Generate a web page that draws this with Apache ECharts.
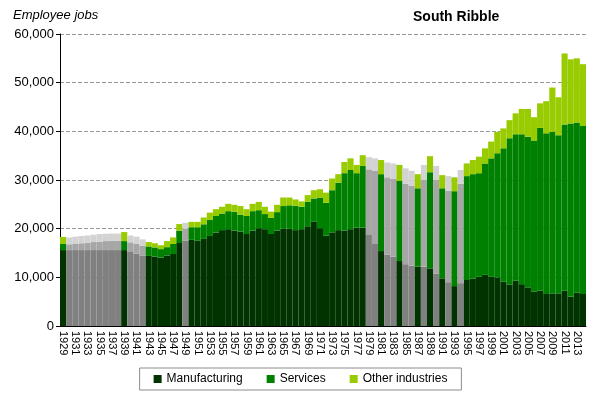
<!DOCTYPE html>
<html>
<head>
<meta charset="utf-8">
<script src="https://cdn.jsdelivr.net/npm/echarts@6/dist/echarts.min.js"></script>
<style>
  html, body { margin: 0; padding: 0; background: #fff; }
  #chart { width: 601px; height: 399px; }
</style>
</head>
<body>
<div id="chart"></div>
<script>
// years 1929 - 2014
var years = [];
for (var y = 1929; y <= 2014; y++) { years.push(String(y)); }

// years drawn in grey (estimated figures)
var estimatedYears = ['1930', '1931', '1932', '1933', '1934', '1935', '1936', '1937', '1938',
    '1940', '1941', '1942', '1949', '1979', '1980', '1982', '1983', '1985', '1986',
    '1988', '1990', '1992', '1994'];

var manufacturing = [
    15600, 15600, 15600, 15600, 15600, 15600, 15600, 15600, 15600, 15600,
    15600, 15200, 14900, 14500, 14400, 14250, 14050, 14500, 14800, 17050,
    17500, 17700, 17500, 17900, 18500, 19200, 19700, 19900, 19600, 19400,
    18900, 19600, 20100, 19900, 18900, 19600, 20000, 20000, 19700, 19900,
    20500, 21400, 20100, 18550, 19250, 19700, 19600, 19900, 20200, 20200,
    18700, 17000, 15400, 14700, 14250, 13350, 12700, 12400, 12200, 12200,
    11850, 10800, 9800, 9000, 8200, 8800, 9450, 9700, 10100, 10500,
    10100, 10000, 9100, 8550, 9300, 8600, 7950, 7050, 7250, 6600,
    6700, 6700, 7250, 6000, 6850, 6600
];

var services = [
    1250, 1200, 1250, 1400, 1500, 1650, 1700, 1850, 1900, 1900,
    1850, 2000, 2050, 2000, 1950, 1900, 1750, 1700, 2050, 2550,
    2500, 2600, 2800, 3000, 3300, 3400, 3400, 3700, 3900, 3500,
    3700, 4000, 3700, 3100, 3300, 3800, 4650, 4800, 5000, 4600,
    5000, 4800, 6300, 6750, 8650, 9750, 11800, 12150, 11200, 12700,
    13500, 14850, 15800, 15850, 15950, 16450, 16500, 16400, 16100, 17800,
    19750, 19200, 18500, 18800, 19500, 20400, 21350, 21500, 21300, 22900,
    24350, 25500, 27400, 30050, 30100, 30800, 30950, 31050, 33450, 33000,
    33200, 32500, 34150, 35600, 34950, 34500
];

var otherIndustries = [
    1450, 1400, 1500, 1500, 1500, 1500, 1600, 1500, 1500, 1500,
    1850, 1400, 1400, 1300, 900, 850, 800, 1250, 1350, 1350,
    1200, 1100, 1100, 1400, 1500, 1400, 1400, 1500, 1400, 1750,
    1400, 1500, 1700, 1500, 1300, 1500, 1750, 1600, 1300, 1100,
    1400, 1700, 1700, 2100, 2400, 1750, 2300, 2400, 1700, 2200,
    2500, 2600, 2900, 3050, 3200, 3300, 3200, 3100, 2900, 3100,
    3300, 2900, 2700, 3000, 2850, 2850, 2600, 2900, 3400, 3100,
    3450, 4400, 4100, 3700, 4300, 5200, 5700, 4800, 5050, 6600,
    9100, 7800, 14600, 13200, 13200, 12700
];

var colours = ['#003300', '#008000', '#99cc00'];
var greys = ['#808080', '#a6a6a6', '#d3d3d3'];

function buildData(values, grey) {
    var out = [];
    for (var i = 0; i < values.length; i++) {
        if (estimatedYears.indexOf(years[i]) >= 0) {
            out.push({ value: values[i], itemStyle: { color: grey } });
        } else {
            out.push(values[i]);
        }
    }
    return out;
}

var font = 'Liberation Sans, Arial, sans-serif';
var names = ['Manufacturing', 'Services', 'Other industries'];
var lists = [manufacturing, services, otherIndustries];
var series = [];
for (var s = 0; s < 3; s++) {
    series.push({
        name: names[s],
        type: 'bar',
        stack: 'jobs',
        barCategoryGap: '0%',
        itemStyle: { color: colours[s] },
        data: buildData(lists[s], greys[s])
    });
}

var ech = echarts.init(document.getElementById('chart'));
var option = {
    animation: false,
    textStyle: { fontFamily: font },
    title: [
        { text: 'Employee jobs', left: 8, top: 4,
          textStyle: { fontFamily: font, fontStyle: 'italic', fontWeight: 'normal', fontSize: 13, color: '#000' } },
        { text: 'South Ribble', left: 408, top: 5,
          textStyle: { fontFamily: font, fontWeight: 'bold', fontSize: 14, color: '#000' } }
    ],
    legend: {
        data: names,
        left: 'center',
        top: 368,
        icon: 'rect',
        itemWidth: 8,
        itemHeight: 8,
        itemGap: 24,
        padding: [5, 14],
        borderColor: '#8c8c8c',
        borderWidth: 1,
        textStyle: { fontFamily: font, fontSize: 12, color: '#000' }
    },
    grid: { left: 60, right: 15, top: 34, bottom: 73 },
    xAxis: {
        type: 'category',
        data: years,
        axisLine: { lineStyle: { color: '#000' } },
        axisTick: { interval: 0, length: 4, lineStyle: { color: '#000' } },
        axisLabel: { interval: 1, rotate: -90, fontSize: 11, color: '#000', margin: 5, fontFamily: font }
    },
    yAxis: {
        type: 'value',
        min: 0,
        max: 60000,
        interval: 10000,
        axisLine: { show: true, lineStyle: { color: '#000' } },
        axisTick: { show: true, length: 4, lineStyle: { color: '#000' } },
        splitLine: { lineStyle: { color: '#999', type: 'dashed' } },
        axisLabel: {
            fontSize: 13, color: '#000', margin: 6, fontFamily: font,
            formatter: function (v) { return v === 0 ? '0' : v.toLocaleString('en-US'); }
        }
    },
    series: series
};
ech.setOption(option);
</script>
</body>
</html>
